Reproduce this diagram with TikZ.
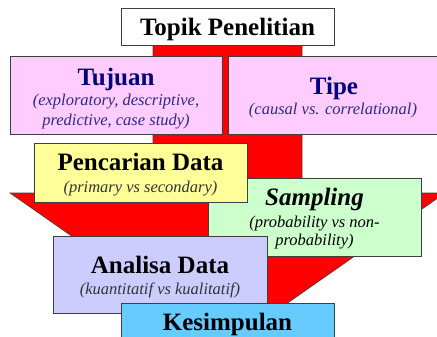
\documentclass[tikz,border=0pt]{standalone}
\usepackage{fontspec}
\setmainfont{Liberation Serif}
\definecolor{pinkbox}{HTML}{FFCCFF}
\definecolor{yellowbox}{HTML}{FFFF99}
\definecolor{greenbox}{HTML}{CCFFCC}
\definecolor{lavbox}{HTML}{CCCCFF}
\definecolor{bluebox}{HTML}{66CCFF}
\definecolor{navy}{HTML}{000080}
\definecolor{navysub}{HTML}{2A2A8C}
\definecolor{greysub}{HTML}{333333}
\definecolor{edge}{HTML}{3F3F3F}
\tikzset{
  box/.style={draw=edge, line width=1pt, rectangle, inner sep=0pt, minimum width=213pt},
  ttl/.style={anchor=base, inner sep=0pt, font=\fontsize{25}{28}\selectfont\bfseries},
  sub/.style={anchor=base, inner sep=0pt, font=\fontsize{16.5}{19}\selectfont\itshape},
  bigarrow/.style={fill=red, draw=black!75, line width=0.6pt, line join=miter}
}
\begin{document}
\begin{tikzpicture}[x=1pt,y=-1pt]
\useasboundingbox (0,0) rectangle (437,337);
% big red arrow
\draw[bigarrow] (153,44) -- (302,44) -- (302,193) -- (445,193) -- (227.5,345) -- (10,193) -- (153,193) -- cycle;
% Topik
\node[box, fill=white, minimum height=37pt] (topik) at (227.5,27.5) {};
\node[ttl] (topikT) at (227.5,36) {Topik Penelitian};
% Tujuan
\node[box, fill=pinkbox, minimum width=212pt, minimum height=78pt] (tujuan) at (116,96) {};
\node[ttl, text=navy] (tujuanT) at (116,86) {Tujuan};
\node[sub, text=navysub] (tujuanS1) at (116,106) {(exploratory, descriptive,};
\node[sub, text=navysub] (tujuanS2) at (116,125) {predictive, case study)};
% Tipe
\node[box, fill=pinkbox, minimum width=212pt, minimum height=78pt] (tipe) at (334,96) {};
\node[ttl, text=navy] (tipeT) at (334,95) {Tipe};
\node[sub, text=navysub] (tipeS) at (333,115) {(causal vs. correlational)};
% Sampling
\node[box, fill=greenbox, minimum height=78pt] (sampling) at (314.5,217) {};
\node[ttl, font=\fontsize{25}{28}\selectfont\bfseries\itshape] (samplingT) at (314.5,205) {Sampling};
\node[sub] (samplingS1) at (314.5,227) {(probability vs non-};
\node[sub] (samplingS2) at (314.5,245) {probability)};
% Pencarian Data
\node[box, fill=yellowbox, minimum height=58pt] (pencarian) at (140.5,173) {};
\node[ttl] (pencarianT) at (140.5,171) {Pencarian Data};
\node[sub, text=greysub] (pencarianS) at (140.5,193) {(primary vs secondary)};
% Analisa Data
\node[box, fill=lavbox, minimum width=214pt, minimum height=77pt] (analisa) at (160,274.5) {};
\node[ttl] (analisaT) at (160,273) {Analisa Data};
\node[sub, text=greysub] (analisaS) at (160,294) {(kuantitatif vs kualitatif)};
% Kesimpulan
\node[box, fill=bluebox, minimum height=42pt] (kesimpulan) at (227.5,324) {};
\node[ttl] (kesimpulanT) at (227.5,330) {Kesimpulan};
\end{tikzpicture}
\end{document}
